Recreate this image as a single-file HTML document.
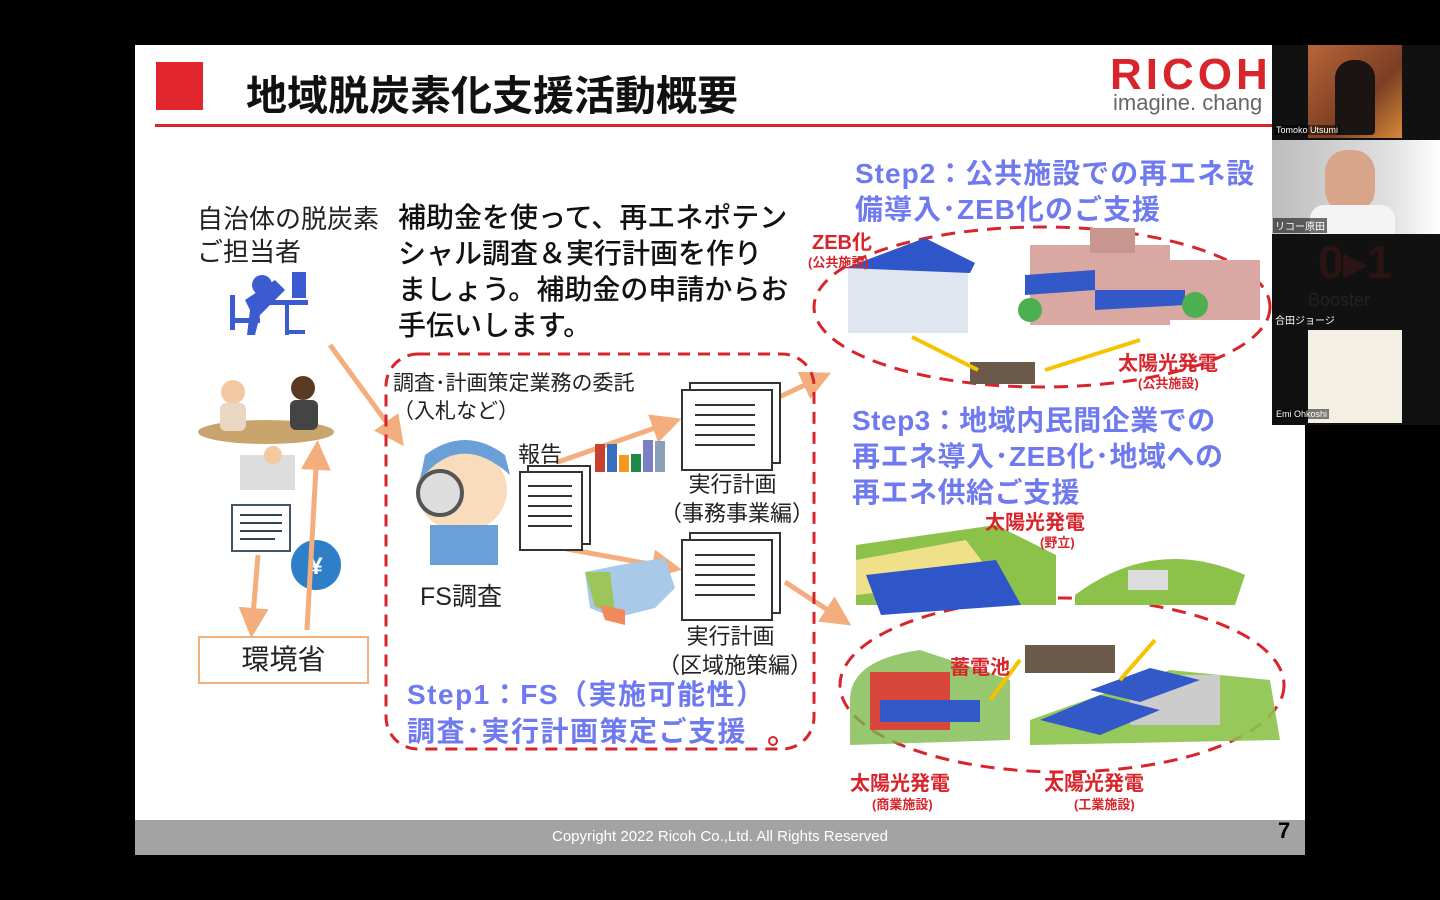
<!DOCTYPE html>
<html><head><meta charset="utf-8"><style>
*{margin:0;padding:0;box-sizing:border-box}
body{width:1440px;height:900px;background:#000;position:relative;overflow:hidden;font-family:"Liberation Sans","Noto Sans CJK JP",sans-serif}
.a{position:absolute;white-space:nowrap}
.blue{color:#6f79f0;font-weight:bold}
.red{color:#d8242b;font-weight:bold}
</style></head><body>
<div class="a" style="left:135px;top:45px;width:1170px;height:810px;background:#fff"></div>
<div class="a" style="left:135px;top:820px;width:1170px;height:35px;background:#a3a3a3"></div>
<div class="a" style="left:135px;top:828px;width:1170px;text-align:center;color:#fff;font-size:15px">Copyright 2022 Ricoh Co.,Ltd. All Rights Reserved</div>
<div class="a" style="left:1278px;top:818px;font-size:22px;font-weight:bold;color:#000">7</div>

<div class="a" style="left:156px;top:62px;width:47px;height:48px;background:#e0262c"></div>
<div class="a" style="left:246px;top:62px;font-size:41px;font-weight:bold;color:#111">地域脱炭素化支援活動概要</div>
<div class="a" style="left:155px;top:124px;width:1117px;height:3px;background:#d8242b"></div>
<div class="a" style="left:1110px;top:50px;font-size:44px;font-weight:bold;color:#d8242b;letter-spacing:4px">RICOH</div>
<div class="a" style="left:1113px;top:90px;font-size:22px;color:#666">imagine. chang</div>

<div class="a" style="left:197px;top:203px;font-size:26px;line-height:33px;color:#222">自治体の脱炭素<br>ご担当者</div>
<div class="a" style="left:398px;top:200px;font-size:28px;line-height:36px;color:#111;font-weight:500">補助金を使って、再エネポテン<br>シャル調査＆実行計画を作り<br>ましょう。補助金の申請からお<br>手伝いします。</div>

<svg class="a" style="left:0;top:0" width="1440" height="900">
<defs><marker id="ar" markerWidth="6" markerHeight="6" refX="4" refY="3" orient="auto"><path d="M0,0L6,3L0,6z" fill="#f4ad7c"/></marker></defs>
<g fill="#3d5bd0"><circle cx="262" cy="285" r="10"/><path d="M245 300l30-20 10 10-25 25-5 20h-8l3-25z"/><rect x="230" y="295" width="5" height="35"/><rect x="230" y="318" width="30" height="5"/><rect x="270" y="300" width="38" height="5"/><rect x="285" y="300" width="4" height="35"/><rect x="285" y="330" width="20" height="4"/><rect x="292" y="272" width="14" height="26"/></g>
<ellipse cx="266" cy="432" rx="68" ry="12" fill="#c9a46d"/>
<circle cx="233" cy="392" r="12" fill="#f2c9a0"/><rect x="220" y="403" width="26" height="28" rx="6" fill="#e9d7c3"/>
<circle cx="303" cy="388" r="12" fill="#5a3a22"/><rect x="290" y="400" width="28" height="30" rx="6" fill="#444"/>
<rect x="240" y="455" width="55" height="35" fill="#ddd"/><circle cx="273" cy="455" r="9" fill="#f2c9a0"/>
<rect x="232" y="505" width="58" height="46" fill="#fff" stroke="#456" stroke-width="2"/>
<g stroke="#345" stroke-width="2"><line x1="240" y1="515" x2="282" y2="515"/><line x1="240" y1="523" x2="282" y2="523"/><line x1="240" y1="531" x2="282" y2="531"/><line x1="240" y1="539" x2="275" y2="539"/></g>
<circle cx="316" cy="565" r="25" fill="#2f7ec8"/><text x="316" y="574" font-size="24" fill="#fff" text-anchor="middle" font-weight="bold" font-family="Liberation Sans">¥</text>
<g stroke="#f4ad7c" stroke-width="5" fill="none" marker-end="url(#ar)">
<line x1="258" y1="555" x2="252" y2="628"/><line x1="307" y1="630" x2="317" y2="450"/>
<line x1="330" y1="345" x2="398" y2="438"/>
<line x1="558" y1="462" x2="672" y2="422"/><line x1="556" y1="547" x2="672" y2="568"/>
<line x1="777" y1="398" x2="822" y2="377"/><line x1="785" y1="582" x2="843" y2="620"/>
</g>
<rect x="386" y="354" width="428" height="395" rx="32" fill="none" stroke="#d8242b" stroke-width="3" stroke-dasharray="12 8"/>
<ellipse cx="462" cy="490" rx="45" ry="42" fill="#f9dcbc"/><path d="M420 480q40-50 90-5l-5-20q-40-30-80 0z" fill="#6a9fd8"/>
<circle cx="440" cy="493" r="22" fill="#ddd" stroke="#555" stroke-width="4"/><rect x="430" y="525" width="68" height="40" fill="#6a9fd8"/>
<g fill="#fff" stroke="#333" stroke-width="2"><rect x="528" y="466" width="62" height="78"/><rect x="520" y="472" width="62" height="78"/>
<rect x="690" y="383" width="90" height="80"/><rect x="682" y="390" width="90" height="80"/>
<rect x="690" y="533" width="90" height="80"/><rect x="682" y="540" width="90" height="80"/></g>
<g stroke="#333" stroke-width="2"><line x1="528" y1="486" x2="572" y2="486"/><line x1="528" y1="496" x2="572" y2="496"/><line x1="528" y1="506" x2="572" y2="506"/><line x1="528" y1="516" x2="572" y2="516"/><line x1="528" y1="526" x2="572" y2="526"/>
<line x1="695" y1="405" x2="755" y2="405"/><line x1="695" y1="415" x2="755" y2="415"/><line x1="695" y1="425" x2="755" y2="425"/><line x1="695" y1="435" x2="755" y2="435"/><line x1="695" y1="445" x2="755" y2="445"/>
<line x1="695" y1="555" x2="755" y2="555"/><line x1="695" y1="565" x2="755" y2="565"/><line x1="695" y1="575" x2="755" y2="575"/><line x1="695" y1="585" x2="755" y2="585"/><line x1="695" y1="595" x2="755" y2="595"/></g>
<rect x="595" y="444" width="10" height="28" fill="#c8402f"/><rect x="607" y="444" width="10" height="28" fill="#3a6fbf"/><rect x="619" y="455" width="10" height="17" fill="#f39a1e"/><rect x="631" y="454" width="10" height="18" fill="#1e8a4a"/><rect x="643" y="440" width="10" height="32" fill="#7b7fc4"/><rect x="655" y="441" width="10" height="31" fill="#8aa0b8"/>
<path d="M585 572l40-8 40-6 10 30-20 20-40 10-25-10z" fill="#a9c9e8"/><path d="M585 572l25 0 5 40-20-5z" fill="#9cc55a"/><path d="M600 605l25 5 0 15-20-5z" fill="#f08a5a"/>
<ellipse cx="1042" cy="307" rx="228" ry="80" fill="none" stroke="#d8242b" stroke-width="3" stroke-dasharray="14 9"/>
<ellipse cx="1062" cy="685" rx="222" ry="87" fill="none" stroke="#d8242b" stroke-width="3" stroke-dasharray="14 9"/>
<rect x="848" y="268" width="120" height="65" fill="#dfe6ef"/><path d="M845 268l80-30 50 25-5 10z" fill="#2f56c8"/>
<rect x="1030" y="245" width="140" height="80" fill="#d9a8a2"/><rect x="1090" y="228" width="45" height="25" fill="#c8958f"/><rect x="1165" y="260" width="95" height="60" fill="#d9a8a2"/>
<path d="M1025 275l70-5 0 20-70 5z M1095 290l90 0 0 15-90 5z" fill="#3358c8"/>
<circle cx="1030" cy="310" r="12" fill="#4caf50"/><circle cx="1195" cy="305" r="13" fill="#4caf50"/>
<rect x="970" y="362" width="65" height="22" fill="#6b5a4a"/>
<g stroke="#f5c400" stroke-width="4"><line x1="912" y1="337" x2="978" y2="370"/><line x1="1045" y1="370" x2="1140" y2="340"/></g>
<path d="M856 545l140 -20 60 30 0 50-200 0z" fill="#8cc24a"/><path d="M856 560l110-20 30 40-140 15z" fill="#f0e08a"/><path d="M866 575l130-15 25 45-140 10z" fill="#2f56c8"/>
<path d="M1075 595q80-60 170-20l-10 30-160 0z" fill="#8cc24a"/><rect x="1128" y="570" width="40" height="20" fill="#ddd"/>
<path d="M850 700q0-40 70-50l90 30 0 60-160 5z" fill="#7db94a" opacity=".8"/><rect x="870" y="672" width="80" height="58" fill="#d9463c"/><rect x="880" y="700" width="100" height="22" fill="#3358c8"/>
<path d="M1030 720l140-50 100 10 10 60-250 5z" fill="#8cc24a" opacity=".9"/><rect x="1130" y="675" width="90" height="50" fill="#ccc"/><path d="M1040 720l60-25 60 15-60 25z M1090 690l60-22 50 12-60 22z" fill="#3358c8"/>
<rect x="1025" y="645" width="90" height="28" fill="#6b5a4a"/>
<g stroke="#f5c400" stroke-width="4"><line x1="1020" y1="660" x2="990" y2="700"/><line x1="1120" y1="680" x2="1155" y2="640"/></g>
<circle cx="773" cy="741" r="4" fill="none" stroke="#d8242b" stroke-width="2"/>
</svg>

<div class="a" style="left:198px;top:636px;width:171px;height:48px;border:2px solid #f0b080;text-align:center;font-size:28px;line-height:44px;color:#222">環境省</div>

<div class="a" style="left:393px;top:370px;font-size:21px;line-height:28px;color:#222">調査･計画策定業務の委託<br>（入札など）</div>
<div class="a" style="left:518px;top:437px;font-size:22px;color:#222">報告</div>
<div class="a" style="left:420px;top:577px;font-size:25px;color:#222">FS調査</div>
<div class="a" style="left:660px;top:470px;width:145px;text-align:center;font-size:22px;line-height:29px;color:#222">実行計画<br>（事務事業編）</div>
<div class="a" style="left:658px;top:622px;width:145px;text-align:center;font-size:22px;line-height:29px;color:#222">実行計画<br>（区域施策編）</div>
<div class="a blue" style="left:407px;top:676px;font-size:28px;line-height:37px;letter-spacing:1.5px">Step1：FS（実施可能性）<br>調査･実行計画策定ご支援</div>

<div class="a blue" style="left:855px;top:156px;font-size:28px;line-height:36px;letter-spacing:1px">Step2：公共施設での再エネ設<br>備導入･ZEB化のご支援</div>
<div class="a red" style="left:812px;top:226px;font-size:20px">ZEB化</div>
<div class="a red" style="left:808px;top:252px;font-size:13px">(公共施設)</div>
<div class="a red" style="left:1118px;top:347px;font-size:20px">太陽光発電</div>
<div class="a red" style="left:1138px;top:373px;font-size:13px">(公共施設)</div>

<div class="a blue" style="left:852px;top:403px;font-size:28px;line-height:36px;letter-spacing:0.5px">Step3：地域内民間企業での<br>再エネ導入･ZEB化･地域への<br>再エネ供給ご支援</div>
<div class="a red" style="left:985px;top:506px;font-size:20px">太陽光発電</div>
<div class="a red" style="left:1040px;top:532px;font-size:13px">(野立)</div>
<div class="a red" style="left:950px;top:651px;font-size:20px">蓄電池</div>
<div class="a red" style="left:850px;top:767px;font-size:20px">太陽光発電</div>
<div class="a red" style="left:872px;top:794px;font-size:13px">(商業施設)</div>
<div class="a red" style="left:1044px;top:767px;font-size:20px">太陽光発電</div>
<div class="a red" style="left:1074px;top:794px;font-size:13px">(工業施設)</div>

<div class="a" style="left:1272px;top:45px;width:168px;height:380px;background:#111"></div>
<div class="a" style="left:1308px;top:45px;width:94px;height:93px;background:linear-gradient(135deg,#b8653a,#7a3e22 60%,#d88a3a)"></div>
<div class="a" style="left:1335px;top:60px;width:40px;height:75px;background:#1a1412;border-radius:18px 18px 4px 4px"></div>
<div class="a" style="left:1274px;top:125px;font-size:9px;color:#fff;background:rgba(0,0,0,.5);padding:0 2px">Tomoko Utsumi</div>
<div class="a" style="left:1272px;top:140px;width:168px;height:94px;background:linear-gradient(90deg,#bdbdbd,#e0e0e0 70%,#fff)"></div>
<div class="a" style="left:1325px;top:150px;width:50px;height:62px;background:#d9a58a;border-radius:22px"></div>
<div class="a" style="left:1310px;top:205px;width:85px;height:29px;background:#f4f4f4;border-radius:14px 14px 0 0"></div>
<div class="a" style="left:1273px;top:218px;font-size:10px;color:#fff;background:rgba(0,0,0,.55);padding:0 2px">リコー原田</div>
<div class="a" style="left:1318px;top:235px;font-size:46px;font-weight:bold;color:#2a1414">0▸1</div>
<div class="a" style="left:1308px;top:290px;font-size:18px;color:#222">Booster</div>
<div class="a" style="left:1275px;top:312px;font-size:10px;color:#fff">合田ジョージ</div>
<div class="a" style="left:1308px;top:330px;width:94px;height:93px;background:#f3efe2"></div>
<div class="a" style="left:1274px;top:409px;font-size:9px;color:#fff;background:rgba(0,0,0,.5);padding:0 2px">Emi Ohkoshi</div>
</body></html>
